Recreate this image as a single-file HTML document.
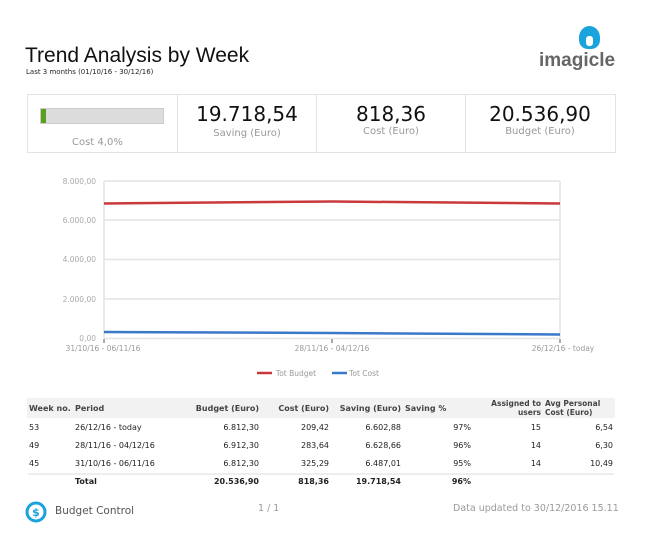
<!DOCTYPE html>
<html><head><meta charset="utf-8"><style>
body{margin:0;width:650px;height:553px;background:#fff;font-family:"DejaVu Sans","Liberation Sans",sans-serif;position:relative;overflow:hidden}
.a{position:absolute;white-space:nowrap}
.g{color:#999}
.t td{font-size:8px;padding:0 2px;height:18px}
</style></head><body>
<div class="a" style="left:25px;top:44px;font-size:21px;font-family:'Liberation Sans',sans-serif;color:#111">Trend Analysis by Week</div>
<div class="a" style="left:26px;top:68px;font-size:7px;color:#222">Last 3 months (01/10/16 - 30/12/16)</div>
<div class="a" style="left:579px;top:26px;width:21px;height:23px;background:#1aa3dd;border-radius:50% 50% 40% 40%"></div>
<div class="a" style="left:586px;top:36px;width:7px;height:10px;background:#fff;border-radius:3px"></div>
<div class="a" style="left:539px;top:50px;font-size:19px;font-weight:bold;color:#666;font-family:'Liberation Sans',sans-serif">imagicle</div>

<div class="a" style="left:27px;top:94px;width:587px;height:57px;border:1px solid #e3e3e3"></div>
<div class="a" style="left:177px;top:95px;width:1px;height:57px;background:#e3e3e3"></div>
<div class="a" style="left:316px;top:95px;width:1px;height:57px;background:#e3e3e3"></div>
<div class="a" style="left:465px;top:95px;width:1px;height:57px;background:#e3e3e3"></div>
<div class="a" style="left:40px;top:108px;width:122px;height:14px;background:#dcdcdc;border:1px solid #ccc"></div>
<div class="a" style="left:41px;top:109px;width:5px;height:14px;background:#5aa01e"></div>
<div class="a g" style="left:72px;top:137px;font-size:10px">Cost 4,0%</div>
<div class="a" style="left:178px;top:102px;width:138px;text-align:center;font-size:20px;color:#111">19.718,54</div>
<div class="a g" style="left:178px;top:128px;width:138px;text-align:center;font-size:10px">Saving (Euro)</div>
<div class="a" style="left:317px;top:102px;width:148px;text-align:center;font-size:20px;color:#111">818,36</div>
<div class="a g" style="left:317px;top:126px;width:148px;text-align:center;font-size:10px">Cost (Euro)</div>
<div class="a" style="left:466px;top:102px;width:148px;text-align:center;font-size:20px;color:#111">20.536,90</div>
<div class="a g" style="left:466px;top:126px;width:148px;text-align:center;font-size:10px">Budget (Euro)</div>

<svg class="a" style="left:0;top:0" width="650" height="553">
<g stroke="#e4e4e4" stroke-width="1.5">
<line x1="104" y1="181" x2="560" y2="181"/><line x1="104" y1="220" x2="560" y2="220"/><line x1="104" y1="259.5" x2="560" y2="259.5"/><line x1="104" y1="299" x2="560" y2="299"/><line x1="104" y1="338.5" x2="560" y2="338.5"/>
<line x1="104" y1="181" x2="104" y2="338"/><line x1="560" y1="181" x2="560" y2="338"/></g>
<g stroke="#555"><line x1="104" y1="339" x2="104" y2="343"/><line x1="332" y1="339" x2="332" y2="343"/><line x1="560" y1="339" x2="560" y2="343"/></g>
<polyline points="104,203.5 332,201.5 560,203.5" fill="none" stroke="#c8393b" stroke-width="2.5"/>
<polyline points="104,332 332,333 560,334.5" fill="none" stroke="#3a78c8" stroke-width="2.5"/>
<g font-size="7.5" fill="#aaa" text-anchor="end" font-family="DejaVu Sans,sans-serif">
<text x="96" y="184">8.000,00</text><text x="96" y="223">6.000,00</text><text x="96" y="262">4.000,00</text><text x="96" y="302">2.000,00</text><text x="96" y="341">0,00</text></g>
<g font-size="7.5" fill="#999" text-anchor="middle" font-family="DejaVu Sans,sans-serif">
<text x="103" y="351">31/10/16 - 06/11/16</text><text x="332" y="351">28/11/16 - 04/12/16</text><text x="563" y="351">26/12/16 - today</text>
<text x="296" y="376">Tot Budget</text><text x="364" y="376">Tot Cost</text></g>
<line x1="257" y1="373" x2="272" y2="373" stroke="#c8393b" stroke-width="2.5"/>
<line x1="332" y1="373" x2="347" y2="373" stroke="#3a78c8" stroke-width="2.5"/>
<circle cx="36" cy="512" r="9" fill="none" stroke="#1aa3dd" stroke-width="3"/>
<text x="36" y="516" font-size="11" font-weight="bold" fill="#1aa3dd" text-anchor="middle">$</text>
<line x1="28" y1="474" x2="614" y2="474" stroke="#e8e8e8" stroke-width="1.5"/>
</svg>

<table class="t a" style="left:27px;top:398px;width:588px;border-collapse:collapse;color:#222">
<tr style="background:#f2f2f2;font-weight:bold;color:#444"><td style="width:42px;height:20px">Week no.</td><td style="width:110px">Period</td><td style="width:70px;text-align:right">Budget (Euro)</td><td style="width:66px;text-align:right">Cost (Euro)</td><td style="width:68px;text-align:right">Saving (Euro)</td><td style="width:66px">Saving %</td><td style="width:66px;text-align:right;font-size:7.5px;line-height:9px">Assigned to<br>users</td><td style="font-size:7.5px;line-height:9px">Avg Personal<br>Cost (Euro)</td></tr>
<tr><td>53</td><td>26/12/16 - today</td><td align="right">6.812,30</td><td align="right">209,42</td><td align="right">6.602,88</td><td align="right">97%</td><td align="right">15</td><td align="right">6,54</td></tr>
<tr><td>49</td><td>28/11/16 - 04/12/16</td><td align="right">6.912,30</td><td align="right">283,64</td><td align="right">6.628,66</td><td align="right">96%</td><td align="right">14</td><td align="right">6,30</td></tr>
<tr><td>45</td><td>31/10/16 - 06/11/16</td><td align="right">6.812,30</td><td align="right">325,29</td><td align="right">6.487,01</td><td align="right">95%</td><td align="right">14</td><td align="right">10,49</td></tr>
<tr style="font-weight:bold"><td></td><td>Total</td><td align="right">20.536,90</td><td align="right">818,36</td><td align="right">19.718,54</td><td align="right">96%</td><td></td><td></td></tr>
</table>

<div class="a" style="left:55px;top:505px;font-size:10.5px;color:#555">Budget Control</div>
<div class="a g" style="left:258px;top:503px;font-size:9.5px">1 / 1</div>
<div class="a g" style="left:453px;top:503px;font-size:9.5px">Data updated to 30/12/2016 15.11</div>
</body></html>
